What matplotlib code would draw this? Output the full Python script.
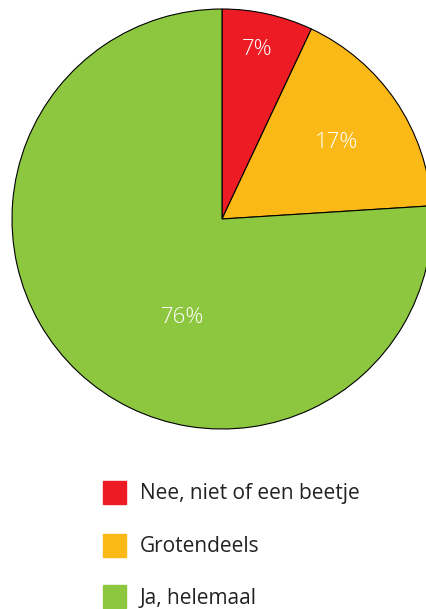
import matplotlib
matplotlib.use("Agg")
from matplotlib import pyplot as plt
from matplotlib.patches import Rectangle

labels = ["Nee, niet of een beetje", "Grotendeels", "Ja, helemaal"]
values = [7, 17, 76]
colors = ["#ED1C24", "#FBB917", "#8DC63F"]
# where each percentage sits inside its wedge (radius units)
label_pos = [(0.167, 0.805), (0.543, 0.362), (-0.186, -0.467)]

plt.rcParams["font.family"] = ["Open Sans", "DejaVu Sans"]

W, H = 427, 609
fig = plt.figure(figsize=(W / 100, H / 100), dpi=100)

cx, cy, r = 222, 219, 210
ax = fig.add_axes([(cx - r) / W, (H - cy - r) / H, 2 * r / W, 2 * r / H])
ax.pie(values, colors=colors, startangle=90, counterclock=False, radius=1,
       wedgeprops=dict(edgecolor="black", linewidth=0.8))
for v, (x, y) in zip(values, label_pos):
    ax.text(x, y, f"{v}%", color="white", fontsize=16, fontweight="light",
            ha="center", va="center")
ax.set_xlim(-1, 1)
ax.set_ylim(-1, 1)
ax.set_aspect("auto")
ax.axis("off")

# legend drawn by hand, text sits on a baseline just below box centre
rows_y = [492, 545, 596]
for lab, col, y in zip(labels, colors, rows_y):
    fig.patches.append(Rectangle((103 / W, (H - y - 11.5) / H), 23 / W, 23 / H,
                                 color=col, transform=fig.transFigure))
    fig.text(140 / W, (H - y - 7.5) / H, lab, fontsize=15,
             color="#222222", ha="left", va="baseline")

fig.savefig("out.png", dpi=100)
